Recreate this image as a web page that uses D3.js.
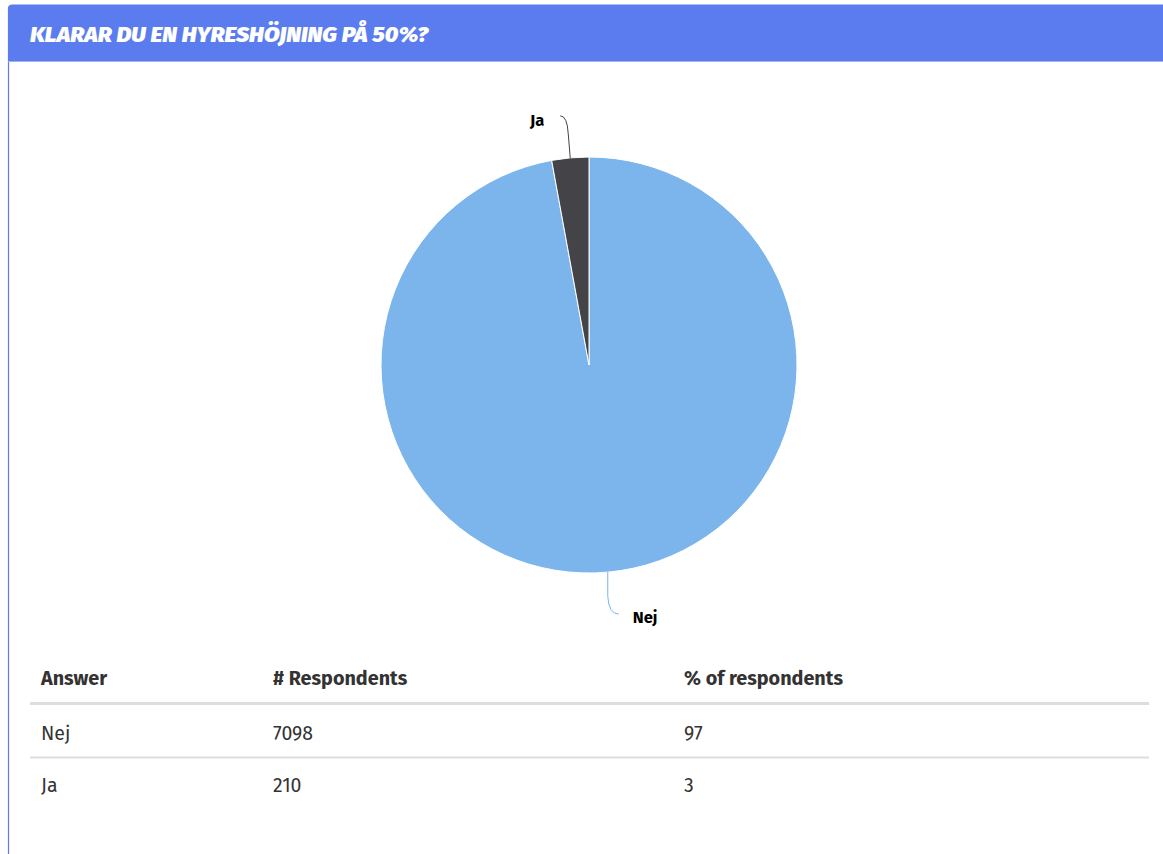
<!DOCTYPE html>
<html><head><meta charset="utf-8">
<script src="https://cdn.jsdelivr.net/npm/d3@7"></script>
<style>
html,body{margin:0;padding:0;background:#fff;}
svg{display:block;}
</style></head>
<body>
<svg id="c" width="1163" height="854"></svg>
<script>
const title = "KLARAR DU EN HYRESHÖJNING PÅ 50%?";
const answers = ["Nej", "Ja"];
const respondents = [7098, 210];
const percents = [97, 3];
const headers = ["Answer", "# Respondents", "% of respondents"];
const colors = ["#7cb5ec", "#434348"];

const svg = d3.select("#c");
const W = 1163, H = 854;
const font = "'Fira Sans','Lato','Noto Sans',sans-serif";

// card
svg.append("path")
  .attr("d", `M8.5,${H+2} L8.5,9 Q8.5,5 12.5,5 L${W+2},5`)
  .attr("fill","none").attr("stroke","#5b7cef").attr("stroke-width",1.2);
svg.append("path")
  .attr("d", `M8,61 L8,9 Q8,5 12,5 L${W+2},5 L${W+2},61 Z`)
  .attr("fill","#5b7cef");
svg.append("line").attr("x1",8).attr("x2",W).attr("y1",61.5).attr("y2",61.5)
  .attr("stroke","#9fb1f5").attr("stroke-width",1);
svg.append("text").attr("x",30).attr("y",42)
  .attr("font-family",font).attr("font-style","italic").attr("font-weight",900)
  .attr("font-size",22).attr("fill","#fff").attr("textLength",398).attr("lengthAdjust","spacingAndGlyphs")
  .text(title);

// pie
const cx = 589, cy = 365, R = 208;
const data = answers.map((a,i)=>({name:a, value:respondents[i], color:colors[i]}));
const pie = d3.pie().sort(null).value(d=>d.value);
const arcs = pie(data);
const arc = d3.arc().innerRadius(0).outerRadius(R);
const g = svg.append("g").attr("transform",`translate(${cx},${cy})`);
g.selectAll("path.slice").data(arcs).join("path").attr("class","slice")
  .attr("d",arc).attr("fill",d=>d.data.color).attr("stroke","#fff").attr("stroke-width",1);

// connectors and labels
arcs.forEach((a,i)=>{
  const m = (a.startAngle + a.endAngle)/2;
  const x0 = R*Math.sin(m), y0 = -R*Math.cos(m);
  const dir = Math.cos(m) > 0 ? -1 : 1; // up or down
  const side = Math.sin(m) < 0 ? -1 : 1;
  const x1 = x0 + (side<0?-2:0), y1 = y0 + dir*24;
  const xL = x1 + side*(side<0?8:11), yL = y1 + dir*(side<0?18:18);
  const p = `M${x0},${y0} L${x1},${y1} Q${x1+side*1},${yL} ${xL},${yL}`;
  g.append("path").attr("d",p).attr("fill","none").attr("stroke",a.data.color).attr("stroke-width",1);
  g.append("text").attr("x", side<0 ? xL - 16 : xL + 14).attr("y", side<0 ? yL + 10 : yL + 9)
    .attr("text-anchor", side<0 ? "end":"start")
    .attr("font-family",font).attr("font-weight",700).attr("font-size",16.5).attr("fill","#000")
    .text(a.data.name);
});

// table
const colX = [41, 273, 684];
const tx0 = 30, tx1 = 1149;
const th = svg.append("g");
th.selectAll("text").data(headers).join("text")
  .attr("x",(d,i)=>colX[i]).attr("y",685)
  .attr("font-family",font).attr("font-weight",700).attr("font-size",19.8).attr("fill","#333")
  .text(d=>d);
svg.append("line").attr("x1",tx0).attr("x2",tx1).attr("y1",703.5).attr("y2",703.5)
  .attr("stroke","#dddddd").attr("stroke-width",3);
const rowY = [740, 792];
data.forEach((d,i)=>{
  const vals = [answers[i], respondents[i], percents[i]];
  svg.append("g").selectAll("text").data(vals).join("text")
    .attr("x",(v,j)=>colX[j]).attr("y",rowY[i])
    .attr("font-family",font).attr("font-weight",400).attr("font-size",19.5).attr("fill","#333")
    .text(v=>v);
});
svg.append("line").attr("x1",tx0).attr("x2",tx1).attr("y1",757.5).attr("y2",757.5)
  .attr("stroke","#dddddd").attr("stroke-width",2);
</script>
</body></html>
